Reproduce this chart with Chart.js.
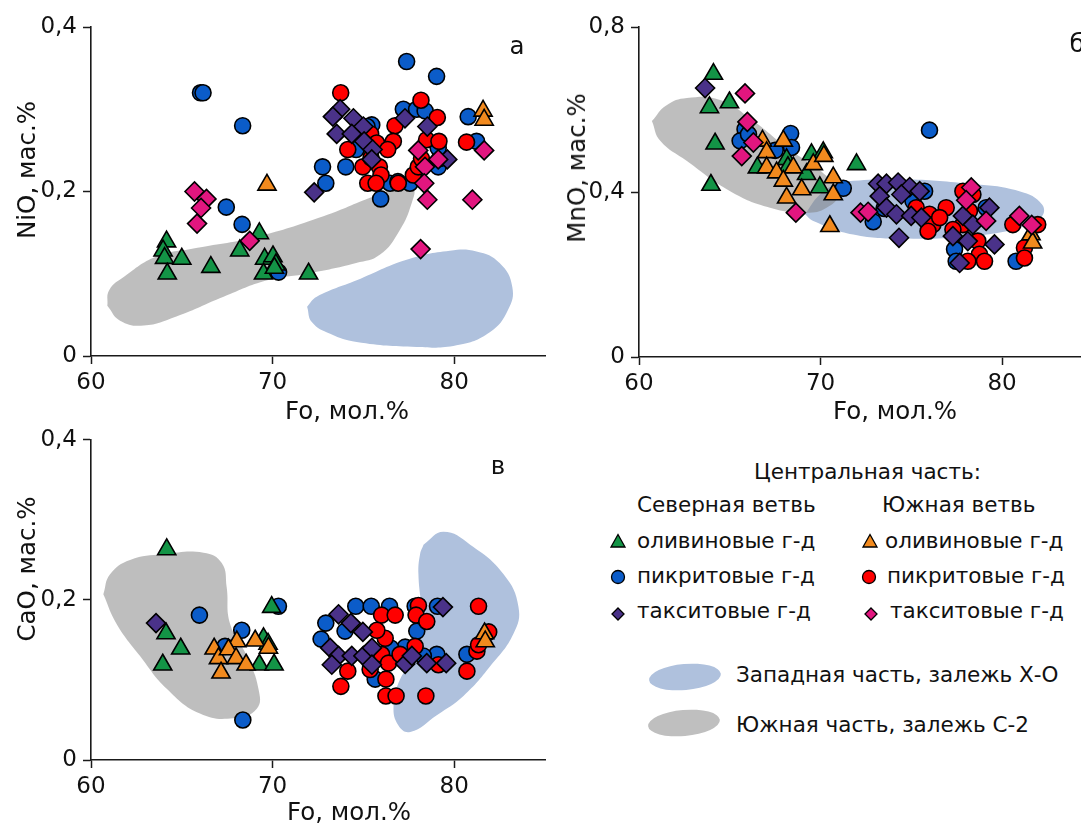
<!DOCTYPE html>
<html><head><meta charset="utf-8">
<script src="https://cdn.jsdelivr.net/npm/chart.js@4.4.1/dist/chart.umd.min.js"></script>
<style>
html,body{margin:0;padding:0;width:1081px;height:823px;overflow:hidden;background:#fff;}
body{position:relative;font-family:'DejaVu Sans',sans-serif;color:#111;}
canvas{position:absolute;}
.t{position:absolute;white-space:nowrap;line-height:24px;font-size:21.5px;}
.rot{position:absolute;white-space:nowrap;font-size:24.5px;line-height:28px;transform:translate(-50%,-50%) rotate(-90deg);}
.xt{position:absolute;white-space:nowrap;font-size:24.5px;line-height:28px;transform:translate(-50%,-50%);}
svg{position:absolute;overflow:visible;}
</style></head><body>
<canvas id="ca" width="560" height="420" style="left:0;top:0;width:560px;height:420px"></canvas>
<canvas id="cb" width="545" height="420" style="left:560px;top:0;width:545px;height:420px"></canvas>
<canvas id="cc" width="560" height="403" style="left:0;top:420px;width:560px;height:403px"></canvas>

<div class="rot" style="left:27px;top:170px">NiO, мас.%</div>
<div class="rot" style="left:577px;top:168px">MnO, мас.%</div>
<div class="rot" style="left:27px;top:569px">CaO, мас.%</div>
<div class="xt" style="left:347px;top:411px">Fo, мол.%</div>
<div class="xt" style="left:895px;top:411px">Fo, мол.%</div>
<div class="xt" style="left:349px;top:812px">Fo, мол.%</div>
<div class="xt" style="left:517px;top:46px">а</div>
<div class="xt" style="left:1077px;top:44px">б</div>
<div class="xt" style="left:498px;top:466px">в</div>

<div class="t" style="left:754px;top:460px">Центральная часть:</div>
<div class="t" style="left:637px;top:493px">Северная ветвь</div>
<div class="t" style="left:882px;top:493px">Южная ветвь</div>
<svg style="left:610px;top:533px" width="16" height="16"><polygon points="8,1.5 15,14 1,14" fill="#139446" stroke="#000" stroke-width="1.3"/></svg>
<div class="t" style="left:637px;top:529px">оливиновые г-д</div>
<svg style="left:862px;top:533px" width="16" height="16"><polygon points="8,1.5 15,14 1,14" fill="#f28a1e" stroke="#000" stroke-width="1.3"/></svg>
<div class="t" style="left:885px;top:529px">оливиновые г-д</div>
<svg style="left:610px;top:569px" width="16" height="16"><circle cx="8" cy="8" r="6.5" fill="#0b5cc9" stroke="#000" stroke-width="1.3"/></svg>
<div class="t" style="left:637px;top:564px">пикритовые г-д</div>
<svg style="left:861px;top:569px" width="16" height="16"><circle cx="8" cy="8" r="6.5" fill="#ff0000" stroke="#000" stroke-width="1.3"/></svg>
<div class="t" style="left:887px;top:564px">пикритовые г-д</div>
<svg style="left:611px;top:607px" width="14" height="14"><polygon points="7,1 13,7 7,13 1,7" fill="#4a3289" stroke="#000" stroke-width="1.3"/></svg>
<div class="t" style="left:637px;top:599px">такситовые г-д</div>
<svg style="left:864px;top:607px" width="14" height="14"><polygon points="7,1 13,7 7,13 1,7" fill="#e2167f" stroke="#000" stroke-width="1.3"/></svg>
<div class="t" style="left:890px;top:599px">такситовые г-д</div>
<svg style="left:646px;top:661px" width="78" height="32"><ellipse cx="39" cy="16" rx="36" ry="13" transform="rotate(-5 39 16)" fill="#afc1dd"/></svg>
<div class="t" style="left:736px;top:663px">Западная часть, залежь Х-О</div>
<svg style="left:645px;top:707px" width="78" height="32"><ellipse cx="39" cy="16" rx="36" ry="13" transform="rotate(-5 39 16)" fill="#bfbfbf"/></svg>
<div class="t" style="left:736px;top:713px">Южная часть, залежь С-2</div>

<script>
// ---- tick values ----
const foTicks = [60, 70, 80];
const niTicks = [0, 0.2, 0.4];
const mnTicks = [0, 0.4, 0.8];
const caTicks = [0, 0.2, 0.4];

// ---- panel а: NiO vs Fo ----
const niOlivN = [[64.16,0.139],[63.97,0.128],[64.05,0.119],[64.2,0.100],[65.0,0.118],[66.6,0.108],[68.19,0.128],[69.27,0.149],[69.56,0.118],[70.02,0.121],[70.18,0.111],[69.5,0.100],[70.1,0.107],[71.98,0.100]];
const niOlivS = [[69.69,0.208],[81.59,0.298],[81.65,0.287]];
const niPicN = [[66.03,0.320],[66.17,0.320],[68.35,0.280],[67.45,0.181],[68.32,0.160],[70.33,0.102],[72.75,0.230],[72.93,0.210],[74.03,0.230],[77.38,0.358],[79.03,0.340],[77.2,0.300],[77.93,0.300],[78.4,0.298],[75.46,0.281],[75.2,0.279],[74.6,0.251],[75.95,0.191],[76.47,0.210],[77.56,0.210],[79.12,0.230],[79.2,0.240],[79.12,0.253],[80.77,0.291],[81.23,0.261],[76.9,0.212]];
const niPicS = [[73.75,0.320],[78.17,0.311],[79.07,0.290],[76.74,0.280],[75.4,0.270],[76.65,0.261],[78.48,0.263],[79.16,0.261],[74.14,0.251],[75.73,0.259],[76.34,0.251],[74.97,0.230],[75.88,0.230],[75.42,0.241],[75.97,0.220],[75.24,0.210],[75.7,0.210],[76.92,0.210],[77.75,0.220],[78.02,0.230],[80.68,0.260],[78.2,0.240]];
const niTaxN = [[73.72,0.300],[73.32,0.291],[73.53,0.270],[74.45,0.289],[75.0,0.279],[74.36,0.270],[75.04,0.261],[75.51,0.251],[75.46,0.239],[72.29,0.199],[77.29,0.289],[78.52,0.279],[79.62,0.239]];
const niTaxS = [[65.7,0.200],[66.36,0.191],[66.06,0.180],[65.84,0.161],[68.74,0.140],[78.02,0.250],[78.39,0.230],[78.35,0.210],[78.52,0.190],[79.12,0.239],[78.15,0.130],[81.0,0.190],[81.65,0.250]];
const niFieldC2 = [[60.9,0.061],[61.0,0.080],[61.8,0.096],[63.6,0.121],[65.5,0.130],[69.1,0.145],[72.8,0.170],[75.55,0.194],[77.0,0.204],[77.75,0.204],[77.66,0.186],[77.0,0.153],[75.9,0.123],[74.6,0.113],[71.9,0.100],[69.7,0.092],[67.3,0.072],[64.7,0.048],[62.9,0.037],[61.6,0.043],[60.9,0.061]];
const niFieldXO = [[71.9,0.060],[72.43,0.072],[74.63,0.092],[77.38,0.117],[79.76,0.128],[81.23,0.127],[82.5,0.113],[83.2,0.084],[82.96,0.056],[81.96,0.029],[80.13,0.013],[77.93,0.011],[74.63,0.017],[73.17,0.027],[72.17,0.041],[71.9,0.060]];

// ---- panel б: MnO vs Fo ----
const mnOlivN = [[64.1,0.686],[63.88,0.605],[64.98,0.617],[64.19,0.517],[63.96,0.417],[66.52,0.459],[68.13,0.479],[68.2,0.46],[69.5,0.491],[70.15,0.496],[69.23,0.443],[69.96,0.411],[71.98,0.467]];
const mnOlivS = [[66.8,0.524],[67.95,0.524],[67.03,0.496],[67.03,0.459],[67.58,0.447],[68.5,0.459],[67.95,0.427],[68.13,0.386],[68.96,0.406],[69.6,0.467],[70.18,0.487],[70.7,0.435],[70.7,0.394],[70.51,0.317],[81.59,0.297],[81.68,0.277]];
const mnPicN = [[68.35,0.542],[65.84,0.552],[65.57,0.524],[66.03,0.540],[67.5,0.501],[68.4,0.508],[71.25,0.409],[76.0,0.550],[72.9,0.328],[75.09,0.378],[75.73,0.402],[77.38,0.261],[77.47,0.232],[80.77,0.232],[79.12,0.362],[73.5,0.36]];
const mnPicS = [[75.27,0.362],[76.0,0.346],[76.92,0.362],[76.19,0.321],[75.92,0.305],[76.56,0.338],[77.84,0.402],[78.39,0.394],[78.2,0.354],[77.84,0.321],[78.66,0.281],[78.75,0.249],[79.03,0.232],[78.11,0.232],[80.59,0.321],[81.23,0.265],[81.23,0.240],[81.96,0.321],[77.29,0.309]];
const mnTaxN = [[63.64,0.652],[73.17,0.420],[73.63,0.420],[73.26,0.390],[74.27,0.423],[74.91,0.412],[74.45,0.394],[75.46,0.402],[73.63,0.362],[74.18,0.346],[74.99,0.342],[75.55,0.338],[74.32,0.289],[77.29,0.293],[77.84,0.342],[78.39,0.321],[78.11,0.281],[77.66,0.228],[79.3,0.362],[79.58,0.273]];
const mnTaxS = [[65.84,0.639],[65.97,0.570],[66.3,0.520],[65.66,0.487],[68.64,0.350],[72.2,0.350],[72.62,0.352],[78.3,0.411],[78.02,0.380],[79.12,0.330],[80.95,0.342],[81.63,0.320]];
const mnFieldC2 = [[60.71,0.572],[61.5,0.610],[62.64,0.628],[64.47,0.623],[66.3,0.572],[68.13,0.508],[70.33,0.439],[70.97,0.394],[70.33,0.362],[69.23,0.350],[67.22,0.362],[65.02,0.402],[62.64,0.475],[61.17,0.524],[60.71,0.572]];
const mnFieldXO = [[69.14,0.346],[69.96,0.394],[70.88,0.419],[71.8,0.427],[74.54,0.431],[78.2,0.420],[80.95,0.402],[82.2,0.370],[82.14,0.338],[80.95,0.313],[78.2,0.293],[74.54,0.287],[71.8,0.297],[69.6,0.330],[69.14,0.346]];

// ---- panel в: CaO vs Fo ----
const caOlivN = [[64.17,0.263],[64.13,0.158],[64.94,0.139],[63.95,0.119],[69.95,0.191],[69.5,0.152],[69.27,0.119],[70.08,0.119],[69.75,0.145]];
const caOlivS = [[66.78,0.139],[67.02,0.127],[68.03,0.148],[67.57,0.138],[67.99,0.127],[67.16,0.109],[68.54,0.119],[69.04,0.149],[69.77,0.140],[81.67,0.158],[81.71,0.148]];
const caPicN = [[65.97,0.181],[68.3,0.162],[67.38,0.142],[68.36,0.050],[70.32,0.192],[74.58,0.192],[75.43,0.192],[76.44,0.192],[77.85,0.192],[79.08,0.192],[72.93,0.171],[72.67,0.151],[73.99,0.161],[77.94,0.161],[77.3,0.141],[79.04,0.132],[80.7,0.132],[75.65,0.101],[76.5,0.14],[78.3,0.13]];
const caPicS = [[76.0,0.181],[76.75,0.181],[78.03,0.193],[77.9,0.181],[78.49,0.173],[81.34,0.192],[76.2,0.152],[75.74,0.162],[76.0,0.132],[76.38,0.121],[77.02,0.132],[75.37,0.113],[74.14,0.111],[73.76,0.092],[76.24,0.101],[76.24,0.080],[76.8,0.080],[78.44,0.080],[77.85,0.142],[79.13,0.119],[80.7,0.111],[81.25,0.136],[81.34,0.144],[81.9,0.160]];
const caTaxN = [[63.58,0.171],[73.63,0.182],[74.31,0.171],[74.97,0.160],[73.17,0.140],[73.63,0.130],[74.36,0.130],[73.26,0.119],[75.0,0.130],[75.47,0.140],[75.47,0.119],[77.3,0.120],[77.67,0.130],[78.49,0.121],[79.56,0.121],[79.38,0.191]];
const caTaxS = [];
const caFieldC2 = [[60.68,0.207],[61.05,0.232],[62.15,0.250],[63.99,0.257],[66.19,0.259],[67.2,0.246],[67.47,0.216],[67.66,0.170],[68.58,0.130],[69.22,0.089],[69.13,0.064],[67.84,0.052],[66.0,0.058],[64.17,0.089],[62.7,0.130],[61.41,0.170],[60.68,0.207]];
const caFieldXO = [[78.31,0.269],[79.41,0.285],[80.88,0.269],[82.72,0.232],[83.54,0.191],[83.27,0.158],[81.98,0.117],[80.51,0.080],[79.04,0.056],[77.58,0.035],[76.93,0.043],[76.66,0.068],[77.02,0.101],[77.85,0.130],[78.22,0.170],[78.03,0.232],[78.12,0.257],[78.31,0.269]];

// ---- styles ----
const C = {olivN:'#139446', olivS:'#f28a1e', picN:'#0b5cc9', picS:'#ff0000', taxN:'#4a3289', taxS:'#e2167f', fieldC2:'rgba(125,125,125,0.5)', fieldXO:'#afc1dd'};
const FONT = 'DejaVu Sans';

function pts(a){ return a.map(p => ({x:p[0], y:p[1]})); }
function marks(data, style, color, r, order){
  return {type:'scatter', data:pts(data), pointStyle:style, pointRadius:r, pointBackgroundColor:color,
          pointBorderColor:'#000', pointBorderWidth:1.6, showLine:false, order};
}
function field(data, color, order){
  return {type:'line', data:pts(data), fill:'shape', backgroundColor:color, borderColor:'rgba(0,0,0,0)',
          borderWidth:0, pointRadius:0, tension:0.45, order};
}
function fmt(v){ return v === 0 ? '0' : String(v).replace('.', ','); }

function makeChart(id, set, yTicks, yMax, pad, yW, xH){
  const ds = [
    field(set.xo, C.fieldXO, 21),
    field(set.c2, C.fieldC2, 20),
    marks(set.picN, 'circle', C.picN, 8, 6),
    marks(set.picS, 'circle', C.picS, 8, 5),
    marks(set.olivN, 'triangle', C.olivN, 10.5, 4),
    marks(set.olivS, 'triangle', C.olivS, 10.5, 3),
    marks(set.taxN, 'rectRot', C.taxN, 9.5, 2),
    marks(set.taxS, 'rectRot', C.taxS, 9.5, 1)
  ];
  const axisCommon = {
    type:'linear',
    grid:{display:true, drawOnChartArea:false, drawTicks:true, tickLength:8, tickColor:'#1a1a1a', tickWidth:1.5},
    border:{display:true, color:'#1a1a1a', width:1.6},
  };
  return new Chart(document.getElementById(id), {
    type:'scatter',
    data:{datasets:ds},
    options:{
      responsive:false, animation:false, devicePixelRatio:1, events:[],
      layout:{padding:pad},
      plugins:{legend:{display:false}, tooltip:{enabled:false}},
      scales:{
        x:Object.assign({}, axisCommon, {
          min:60, max:85,
          afterBuildTicks:s => { s.ticks = foTicks.map(v => ({value:v})); },
          afterFit:s => { s.height = xH; },
          ticks:{autoSkip:false, maxRotation:0, padding:5, color:'#111', font:{family:FONT, size:23}, callback:v => fmt(v)}
        }),
        y:Object.assign({}, axisCommon, {
          min:0, max:yMax,
          afterBuildTicks:s => { s.ticks = yTicks.map(v => ({value:v})); },
          afterFit:s => { s.width = yW; },
          ticks:{autoSkip:false, padding:6, color:'#111', font:{family:FONT, size:23}, callback:v => fmt(v)}
        })
      }
    }
  });
}

makeChart('ca', {olivN:niOlivN, olivS:niOlivS, picN:niPicN, picS:niPicS, taxN:niTaxN, taxS:niTaxS, c2:niFieldC2, xo:niFieldXO},
  niTicks, 0.4, {left:0, top:27, right:15, bottom:0}, 91, 64);
makeChart('cb', {olivN:mnOlivN, olivS:mnOlivS, picN:mnPicN, picS:mnPicS, taxN:mnTaxN, taxS:mnTaxS, c2:mnFieldC2, xo:mnFieldXO},
  mnTicks, 0.8, {left:0, top:27, right:11, bottom:0}, 79, 63);
makeChart('cc', {olivN:caOlivN, olivS:caOlivS, picN:caPicN, picS:caPicS, taxN:caTaxN, taxS:caTaxS, c2:caFieldC2, xo:caFieldXO},
  caTicks, 0.4, {left:0, top:13, right:15, bottom:0}, 91, 63);
</script>
</body></html>
